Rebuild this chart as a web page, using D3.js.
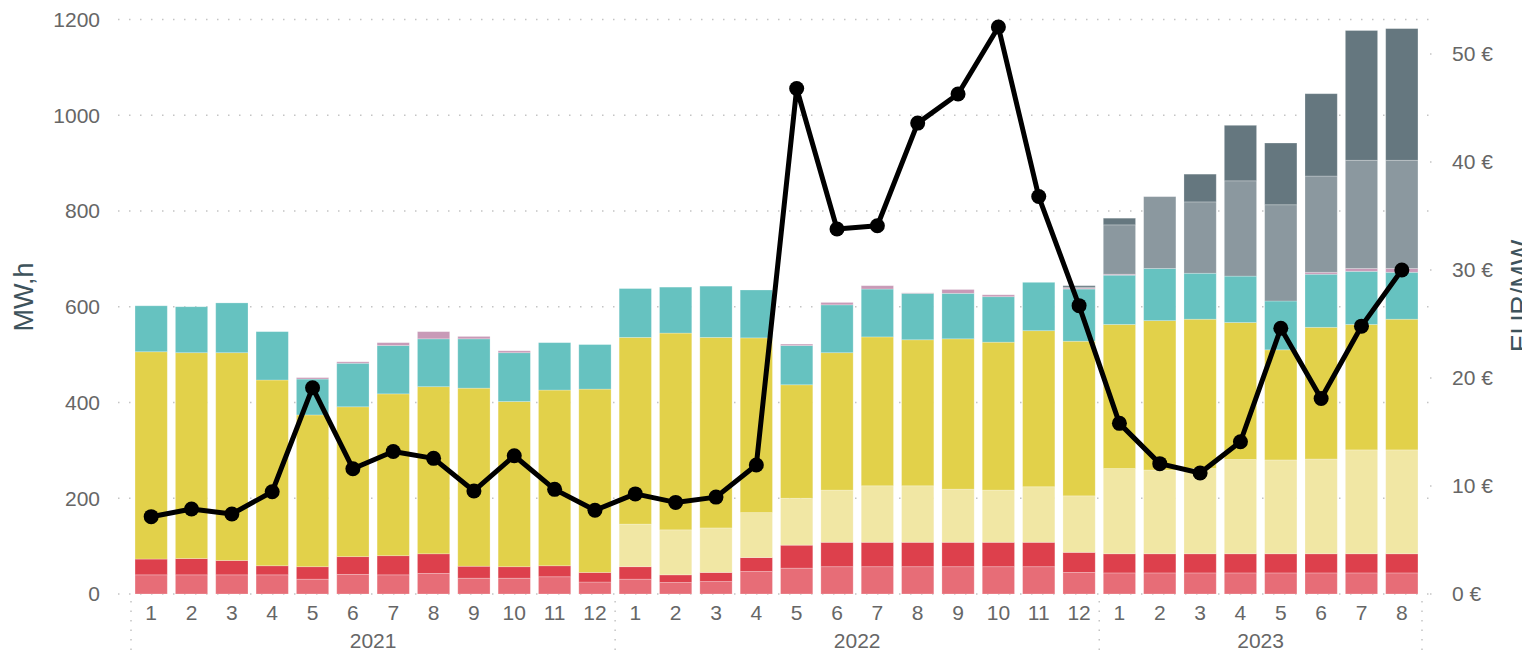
<!DOCTYPE html>
<html>
<head>
<meta charset="utf-8">
<script src="https://cdn.jsdelivr.net/npm/d3@7"></script>
<style>
  body { margin: 0; background: #fff; }
  svg { display: block; font-family: "Liberation Sans", Arial, sans-serif; }
</style>
</head>
<body>
<svg id="chart" width="1522" height="654"></svg>
<script>
// months on the x axis (year-month)
const periods = [
  "2021-1","2021-2","2021-3","2021-4","2021-5","2021-6","2021-7","2021-8","2021-9","2021-10","2021-11","2021-12",
  "2022-1","2022-2","2022-3","2022-4","2022-5","2022-6","2022-7","2022-8","2022-9","2022-10","2022-11","2022-12",
  "2023-1","2023-2","2023-3","2023-4","2023-5","2023-6","2023-7","2023-8"
];
const years = ["2021", "2022", "2023"];

// stacked volumes, MW,h (bottom to top)
const lightRed = [40,40,40,40,31,41,40,43,33,33,36,25, 31,24,26,47,54,57,57,57,57,57,57,45, 44,44,44,44,44,44,44,44];
const red      = [33,34,30,19,26,37,40,41,25,24,23,20, 26,16,19,29,48,51,51,51,51,51,51,42, 40,40,40,40,40,40,40,40];
const paleYellow = [0,0,0,0,0,0,0,0,0,0,0,0, 89,94,93,94,98,109,118,118,111,109,116,118, 178,175,178,197,196,198,217,217];
const yellow   = [433,430,434,388,317,313,338,349,372,345,367,383, 390,411,398,365,237,287,311,305,314,309,326,323, 301,312,312,286,230,275,262,273];
const teal     = [96,96,104,101,75,91,101,100,103,102,99,93, 102,96,107,100,82,100,100,97,95,95,101,109, 103,109,96,97,102,111,111,98];
const pink     = [0,0,0,0,3,3,6,15,5,4,0,0, 0,0,0,0,3,5,7,1,8,4,0,2, 2,0,0,0,0,4,6,8];
const gray     = [0,0,0,0,0,0,0,0,0,0,0,0, 0,0,0,0,0,0,0,0,0,0,0,2, 103,150,149,199,201,201,226,226];
const slate    = [0,0,0,0,0,0,0,0,0,0,0,0, 0,0,0,0,0,0,0,0,0,0,0,3, 14,0,58,116,129,172,271,275];

// price line, EUR/MW
const price = [7.16,7.87,7.41,9.47,19.1,11.6,13.2,12.56,9.54,12.8,9.69,7.75,
  9.27,8.48,8.97,11.95,46.8,33.8,34.1,43.6,46.3,52.5,36.8,26.7,
  15.8,12.07,11.2,14.1,24.6,18.1,24.8,30.0];

const leftTicks = [0, 200, 400, 600, 800, 1000, 1200];
const rightTicks = [0, 10, 20, 30, 40, 50];

const seriesList = [
  { key: "lightRed", values: lightRed, color: "#e76d77" },
  { key: "red", values: red, color: "#dd404c" },
  { key: "paleYellow", values: paleYellow, color: "#f1e7a4" },
  { key: "yellow", values: yellow, color: "#e2d14a" },
  { key: "teal", values: teal, color: "#66c2c0" },
  { key: "pink", values: pink, color: "#c89ab7" },
  { key: "gray", values: gray, color: "#8b989f" },
  { key: "slate", values: slate, color: "#65777f" }
];

const svg = d3.select("#chart");
const plotTop = 19.5, plotBottom = 594, plotLeft = 131, plotRight = 1422;

const x = d3.scaleBand().domain(periods).range([plotLeft, plotRight]).paddingInner(0.2).paddingOuter(0.1);
const y = d3.scaleLinear().domain([0, 1200]).range([plotBottom, plotTop]);
const y2 = d3.scaleLinear().domain([0, (plotBottom - plotTop) / 10.8]).range([plotBottom, plotTop]);

// table for the stack
const table = periods.map((p, i) => {
  const row = { period: p };
  seriesList.forEach(s => { row[s.key] = s.values[i]; });
  return row;
});
const stacked = d3.stack().keys(seriesList.map(s => s.key))(table);

// gridlines
svg.append("g").selectAll("line").data(leftTicks).join("line")
  .attr("x1", 118).attr("x2", 1430)
  .attr("y1", d => y(d)).attr("y2", d => y(d))
  .attr("stroke", "#c4c4c4").attr("stroke-width", 1.5)
  .attr("stroke-dasharray", "1.5,9.5");

// left axis labels
svg.append("g").selectAll("text").data(leftTicks).join("text")
  .attr("x", 100).attr("y", d => y(d)).attr("dy", "0.35em")
  .attr("text-anchor", "end").attr("font-size", 21).attr("fill", "#666")
  .text(d => d);

// right axis labels + small dotted ticks
svg.append("g").selectAll("line").data(rightTicks).join("line")
  .attr("x1", 1430).attr("x2", 1440)
  .attr("y1", d => y2(d)).attr("y2", d => y2(d))
  .attr("stroke", "#c4c4c4").attr("stroke-width", 1.5).attr("stroke-dasharray", "1.5,9.5");
svg.append("g").selectAll("text").data(rightTicks).join("text")
  .attr("x", 1452).attr("y", d => y2(d)).attr("dy", "0.35em")
  .attr("font-size", 21).attr("fill", "#666")
  .text(d => d + " €");

// axis titles
svg.append("text")
  .attr("transform", "translate(33,297) rotate(-90)")
  .attr("text-anchor", "middle").attr("font-size", 27).attr("fill", "#3e535c")
  .text("MW,h");
svg.append("text")
  .attr("transform", "translate(1530,296) rotate(-90)")
  .attr("text-anchor", "middle").attr("font-size", 27).attr("fill", "#3e535c")
  .text("EUR/MW");

// bars
svg.append("g").selectAll("g").data(stacked).join("g")
  .attr("fill", (d, i) => seriesList[i].color)
  .selectAll("rect").data(d => d).join("rect")
  .attr("x", d => x(d.data.period))
  .attr("width", x.bandwidth())
  .attr("y", d => y(d[1]))
  .attr("height", d => y(d[0]) - y(d[1]))
  .attr("stroke", "#fff").attr("stroke-opacity", 0.3).attr("stroke-width", 0.8);

// month labels
svg.append("g").selectAll("text").data(periods).join("text")
  .attr("x", d => x(d) + x.bandwidth() / 2).attr("y", 620)
  .attr("text-anchor", "middle").attr("font-size", 21).attr("fill", "#666")
  .text(d => d.split("-")[1]);

// year labels and separators
const yearSpan = years.map(yr => {
  const ps = periods.filter(p => p.startsWith(yr));
  const x0 = x(ps[0]) - x.step() * x.paddingInner() / 2;
  const x1 = x(ps[ps.length - 1]) + x.bandwidth() + x.step() * x.paddingInner() / 2;
  return { yr, x0, x1 };
});
const sepX = [plotLeft].concat(yearSpan.map(d => d.x1));
svg.append("g").selectAll("line").data(sepX).join("line")
  .attr("x1", d => d).attr("x2", d => d)
  .attr("y1", 601).attr("y2", 654)
  .attr("stroke", "#c4c4c4").attr("stroke-width", 1.5).attr("stroke-dasharray", "1.5,8");
svg.append("g").selectAll("text").data(yearSpan).join("text")
  .attr("x", d => (d.x0 + d.x1) / 2).attr("y", 648)
  .attr("text-anchor", "middle").attr("font-size", 21).attr("fill", "#666")
  .text(d => d.yr);

// price line
const line = d3.line()
  .x((d, i) => x(periods[i]) + x.bandwidth() / 2)
  .y(d => y2(d));
svg.append("path").datum(price)
  .attr("d", line).attr("fill", "none")
  .attr("stroke", "#000").attr("stroke-width", 5).attr("stroke-linejoin", "round");
svg.append("g").selectAll("circle").data(price).join("circle")
  .attr("cx", (d, i) => x(periods[i]) + x.bandwidth() / 2)
  .attr("cy", d => y2(d)).attr("r", 7.5).attr("fill", "#000");
</script>
</body>
</html>
